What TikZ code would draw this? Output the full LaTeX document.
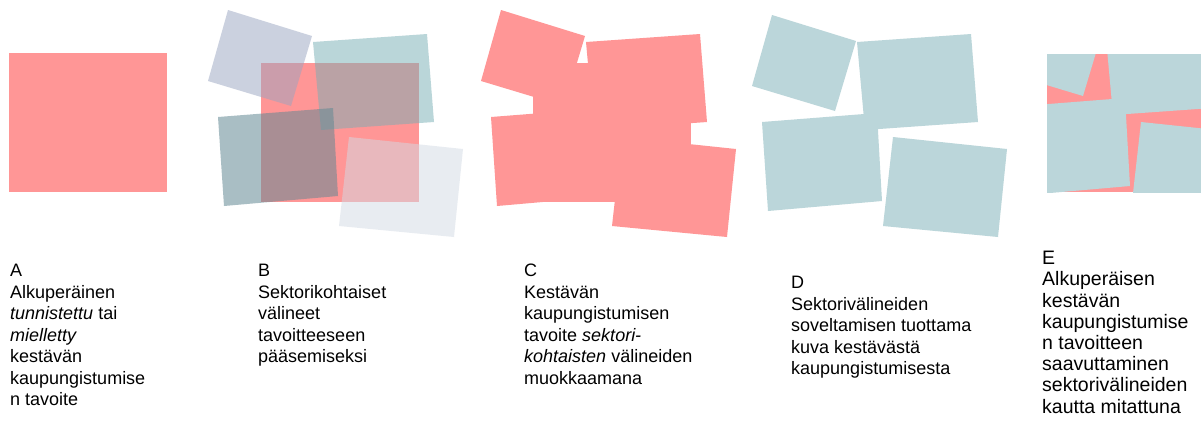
\documentclass[tikz,border=0pt]{standalone}
\usepackage{fontspec}
\setmainfont{Liberation Sans}
\definecolor{goalred}{RGB}{255,150,150}
\definecolor{toolteal}{RGB}{187,214,218}
\definecolor{lavbase}{RGB}{153,165,193}
\definecolor{tealbase}{RGB}{119,175,181}
\definecolor{darkbase}{RGB}{99,137,148}
\definecolor{greybase}{RGB}{211,219,229}
% four sector tiles, #1 = lift of tiles 1 and 3, #2..#5 = styles
\newcommand{\tiles}[5]{%
  \fill[#2,shift={(0,#1)}] (772,15) -- (856,41) -- (835,111) -- (752,86) -- cycle;
  \fill[#3] (857,42) -- (971,34) -- (978,122) -- (865,130) -- cycle;
  \fill[#4,shift={(0,#1)}] (762,122) -- (877,113) -- (882,201) -- (768,211) -- cycle;
  \fill[#5] (893,137) -- (1007,149) -- (998,237) -- (883,226) -- cycle;}

\begin{document}
\begin{tikzpicture}[x=1bp,y=-1bp,
  goal/.style={fill=goalred},
  tool/.style={fill=toolteal},
  glass/.style={fill=#1,fill opacity=0.5},
  lbl/.style={anchor=north west,align=left,inner sep=0pt,
              font=\fontsize{18bp}{21.5bp}\selectfont}]
  \useasboundingbox (0,0) rectangle (1201,432);
  \fill[white] (0,0) rectangle (1201,432);

  % A
  \fill[goal] (9,53) rectangle (167,192);
  % B
  \fill[goal] (261,63) rectangle (419,202);
  \begin{scope}[shift={(-544,0)}]
    \tiles{-5}{glass=lavbase}{glass=tealbase}{glass=darkbase,fill opacity=0.55}{glass=greybase}
  \end{scope}
  % C
  \fill[goal] (533,63) rectangle (691,202);
  \begin{scope}[shift={(-271,0)}]
    \tiles{-5}{goal}{goal}{goal}{goal}
  \end{scope}
  % D
  \tiles{0}{tool}{tool}{tool}{tool}
  % E
  \begin{scope}
    \clip (1047,54) rectangle (1201,192);
    \fill[goal] (1047,54) rectangle (1201,192);
    \begin{scope}[shift={(248,-15)}]
      \tiles{0}{tool}{tool}{tool}{tool}
    \end{scope}
  \end{scope}

  \node[lbl] (labA) at (10,264) {A\\Alkuperäinen\\\textit{tunnistettu} tai\\\textit{mielletty}\\kestävän\\kaupungistumise\\n tavoite};
  \node[lbl] (labB) at (258,264) {B\\Sektorikohtaiset\\välineet\\tavoitteeseen\\pääsemiseksi};
  \node[lbl] (labC) at (524,264) {C\\Kestävän\\kaupungistumisen\\tavoite \textit{sektori-}\\\textit{kohtaisten} välineiden\\muokkaamana};
  \node[lbl] (labD) at (791,276) {D\\Sektorivälineiden\\soveltamisen tuottama\\kuva kestävästä\\kaupungistumisesta};
  \node[lbl,font=\fontsize{19.5bp}{21.2bp}\selectfont] (labE) at (1042,251) {E\\Alkuperäisen\\kestävän\\kaupungistumise\\n tavoitteen\\saavuttaminen\\sektorivälineiden\\kautta mitattuna};
\end{tikzpicture}
\end{document}
